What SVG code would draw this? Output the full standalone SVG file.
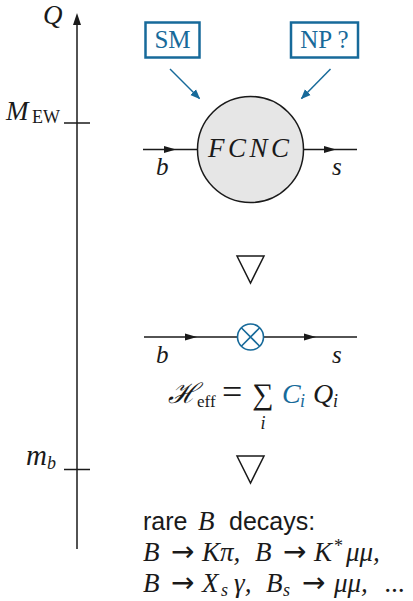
<svg xmlns="http://www.w3.org/2000/svg" width="413" height="601" viewBox="0 0 413 601">
<style>
.m{font-family:"Liberation Serif","DejaVu Serif",serif;font-style:italic;fill:#1a1a1a}
.r{font-family:"Liberation Serif","DejaVu Serif",serif;fill:#1a1a1a}
.ar{font-family:"DejaVu Sans",sans-serif;fill:#1a1a1a;font-size:28px}
.sans{font-family:"Liberation Sans",Arial,sans-serif;fill:#1a1a1a}
.blue{fill:#176a9a}
.ln{stroke:#1a1a1a;stroke-width:1.5;fill:none}
.bl{stroke:#176a9a;fill:none}
.fa{fill:#1a1a1a}
</style>
<defs>
<path id="fa" d="M-6,-3.6 L6,0 L-6,3.6 Z"/>
<marker id="bh" viewBox="0 0 10 10" refX="9" refY="5" markerWidth="10" markerHeight="10" markerUnits="userSpaceOnUse" orient="auto">
<path d="M0,1 L10,5 L0,9 Z" fill="#176a9a"/>
</marker>
</defs>

<g id="axis">
<line class="ln" x1="77" y1="22" x2="77" y2="549"/>
<polygon points="77,13 73,25 81,25" fill="#1a1a1a"/>
<line class="ln" x1="64" y1="123" x2="90" y2="123"/>
<line class="ln" x1="64" y1="469.5" x2="90" y2="469.5"/>
<text class="m" x="43" y="24" font-size="27">Q</text>
<text class="m" x="6" y="120" font-size="27">M</text>
<text class="r" x="32" y="123" font-size="18">EW</text>
<text class="m" x="26" y="465" font-size="29">m</text>
<text class="m" x="47" y="469" font-size="18">b</text>
</g>

<g id="sm">
<rect x="145.5" y="22.5" width="54" height="35" fill="none" stroke="#176a9a" stroke-width="2.5"/>
<text class="r blue" x="172.5" y="48" font-size="25" text-anchor="middle">SM</text>
</g>
<g id="np">
<rect x="291" y="22.5" width="67" height="35" fill="none" stroke="#176a9a" stroke-width="2.5"/>
<text class="r blue" x="324.5" y="48" font-size="25" text-anchor="middle">NP ?</text>
</g>

<g id="fcnc">
<line class="ln" x1="143" y1="149.5" x2="198" y2="149.5"/>
<line class="ln" x1="303" y1="149.5" x2="357" y2="149.5"/>
<use href="#fa" class="fa" x="170" y="149.5"/>
<use href="#fa" class="fa" x="330" y="149.5"/>
<circle cx="250.5" cy="149.5" r="53" fill="#e6e6e6" stroke="#1a1a1a" stroke-width="1.5"/>
<text class="m" x="208" y="157" font-size="27" textLength="81" lengthAdjust="spacing">FCNC</text>
<text class="m" x="156" y="175" font-size="25">b</text>
<text class="m" x="332" y="175" font-size="25">s</text>
</g>

<g id="connectors">
<line class="bl" x1="170" y1="69" x2="199.5" y2="98.5" stroke-width="1.5" marker-end="url(#bh)"/>
<line class="bl" x1="330.5" y1="69" x2="301.5" y2="98.5" stroke-width="1.5" marker-end="url(#bh)"/>
</g>

<g id="tri1">
<polygon points="237,256 264,256 250.5,283" fill="none" stroke="#1a1a1a" stroke-width="1.5"/>
</g>

<g id="eft">
<line class="ln" x1="144" y1="337" x2="237.5" y2="337"/>
<line class="ln" x1="263.5" y1="337" x2="357" y2="337"/>
<use href="#fa" class="fa" x="191" y="337"/>
<use href="#fa" class="fa" x="310" y="337"/>
<circle cx="250.5" cy="337" r="13" fill="none" stroke="#176a9a" stroke-width="1.6"/>
<path d="M241.3,327.8 L259.7,346.2 M259.7,327.8 L241.3,346.2" stroke="#176a9a" stroke-width="1.6"/>
<text class="m" x="156" y="363" font-size="25">b</text>
<text class="m" x="332" y="363" font-size="25">s</text>
</g>

<g id="heff">
<text class="m" x="168" y="403" font-size="28">ℋ</text>
<text class="r" x="197" y="407" font-size="17">eff</text>
<text class="r" x="222" y="404" font-size="36">=</text>
<text class="r" x="263" y="404" font-size="30" text-anchor="middle">∑</text>
<text class="m" x="263" y="429" font-size="18" text-anchor="middle">i</text>
<text class="m blue" x="282" y="403" font-size="28">C</text>
<text class="m blue" x="300" y="407" font-size="18">i</text>
<text class="m" x="313" y="403" font-size="28">Q</text>
<text class="m" x="333" y="407" font-size="18">i</text>
</g>

<g id="tri2">
<polygon points="237,456 264,456 250.5,483" fill="none" stroke="#1a1a1a" stroke-width="1.5"/>
</g>

<g id="decays">
<text class="sans" x="143" y="530" font-size="25">rare</text>
<text class="m" x="198" y="530" font-size="27">B</text>
<text class="sans" x="229" y="530" font-size="25">decays:</text>
<text class="m" x="143" y="561" font-size="27">B</text>
<text class="ar" x="171" y="561">→</text>
<text class="m" x="202" y="561" font-size="27">K<tspan>π</tspan>,</text>
<text class="m" x="255" y="561" font-size="27">B</text>
<text class="ar" x="283" y="561">→</text>
<text class="m" x="314" y="561" font-size="27">K</text>
<text class="r" x="334" y="552" font-size="18">*</text>
<text class="m" x="346" y="561" font-size="27">μμ,</text>
<text class="m" x="143" y="592" font-size="27">B</text>
<text class="ar" x="171" y="592">→</text>
<text class="m" x="202" y="592" font-size="27">X</text>
<text class="m" x="221" y="596" font-size="18">s</text>
<text class="m" x="234" y="592" font-size="27">γ,</text>
<text class="m" x="266" y="592" font-size="27">B</text>
<text class="m" x="283" y="596" font-size="18">s</text>
<text class="ar" x="302" y="592">→</text>
<text class="m" x="334" y="592" font-size="27">μμ,</text>
<text class="m" x="385" y="592" font-size="27">...</text>
</g>
</svg>
